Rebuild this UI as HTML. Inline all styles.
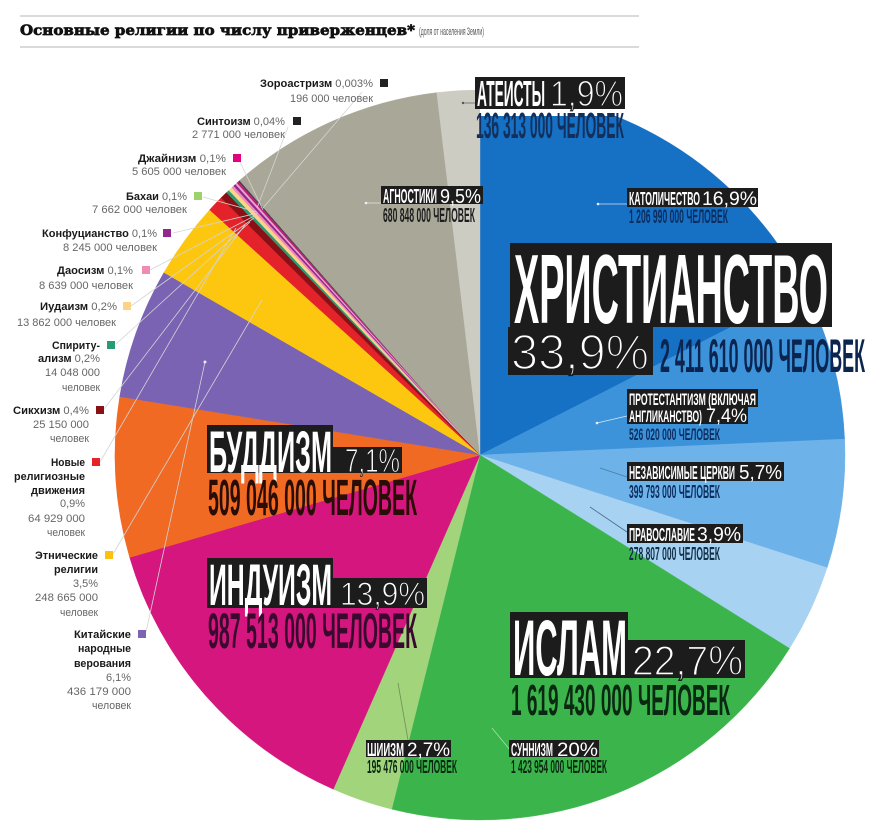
<!DOCTYPE html>
<html><head><meta charset="utf-8">
<style>
html,body{margin:0;padding:0;background:#fff;}
svg{display:block;}
.c{font-family:"Liberation Sans Narrow","Liberation Sans",sans-serif;font-weight:bold;}
.p{font-family:"Liberation Sans",sans-serif;font-weight:normal;}
.l{font-family:"Liberation Sans",sans-serif;font-size:11px;}
.l .b{font-weight:bold;fill:#1a1a1a;}
.l .g{fill:#666;}
.lg{fill:#666;}
</style></head>
<body>
<svg width="880" height="835" viewBox="0 0 880 835" xmlns="http://www.w3.org/2000/svg">
<rect width="880" height="835" fill="#fff"/>
<!-- title -->
<line x1="20" y1="16" x2="639" y2="16" stroke="#b5b5b5" stroke-width="1"/>
<line x1="20" y1="47" x2="639" y2="47" stroke="#b5b5b5" stroke-width="1"/>
<text x="20" y="35" font-family="'DejaVu Serif','Liberation Serif',serif" font-weight="bold" font-size="14" fill="#111" stroke="#111" stroke-width="0.7" textLength="395" lengthAdjust="spacingAndGlyphs">Основные религии по числу приверженцев*</text>
<text x="419" y="35" font-family="'Liberation Sans Narrow','Liberation Sans',sans-serif" font-size="11" fill="#555" textLength="65" lengthAdjust="spacingAndGlyphs">(доля от населения Земли)</text>

<!-- pie -->
<g stroke-width="0.4">
<path d="M480,455 L480,90 A365,365 0 0 1 805.22,289.29 Z" fill="#1670c4" stroke="#1670c4"/>
<path d="M480,455 L805.22,289.29 A365,365 0 0 1 844.65,439.08 Z" fill="#3c93da" stroke="#3c93da"/>
<path d="M480,455 L844.65,439.08 A365,365 0 0 1 827.13,567.79 Z" fill="#6db3e9" stroke="#6db3e9"/>
<path d="M480,455 L827.13,567.79 A365,365 0 0 1 789.54,648.42 Z" fill="#a8d2f1" stroke="#a8d2f1"/>
<path d="M480,455 L789.54,648.42 A365,365 0 0 1 391.70,809.16 Z" fill="#3bb54b" stroke="#3bb54b"/>
<path d="M480,455 L391.70,809.16 A365,365 0 0 1 333.29,789.22 Z" fill="#a2d47c" stroke="#a2d47c"/>
<path d="M480,455 L333.29,789.22 A365,365 0 0 1 129.67,557.44 Z" fill="#d5167f" stroke="#d5167f"/>
<path d="M480,455 L129.67,557.44 A365,365 0 0 1 119.69,396.64 Z" fill="#f06a24" stroke="#f06a24"/>
<path d="M480,455 L119.69,396.64 A365,365 0 0 1 163.90,272.5 Z" fill="#7a63b3" stroke="#7a63b3"/>
<path d="M480,455 L163.90,272.5 A365,365 0 0 1 209.61,209.82 Z" fill="#fdc70f" stroke="#fdc70f"/>
<path d="M480,455 L209.61,209.82 A365,365 0 0 1 221.00,197.81 Z" fill="#e42229" stroke="#e42229"/>
<path d="M480,455 L221.00,197.81 A365,365 0 0 1 226.45,192.44 Z" fill="#8b1016" stroke="#8b1016"/>
<path d="M480,455 L226.45,192.44 A365,365 0 0 1 228.75,190.24 Z" fill="#2a9a73"/>
<path d="M480,455 L228.75,190.24 A365,365 0 0 1 231.54,187.62 Z" fill="#fdd485"/>
<path d="M480,455 L231.54,187.62 A365,365 0 0 1 233.41,185.89 Z" fill="#f08bb5"/>
<path d="M480,455 L233.41,185.89 A365,365 0 0 1 235.29,184.18 Z" fill="#93278f"/>
<path d="M480,455 L235.29,184.18 A365,365 0 0 1 236.72,182.90 Z" fill="#e3a4c8"/>
<path d="M480,455 L236.72,182.90 A365,365 0 0 1 238.14,181.63 Z" fill="#c3187a"/>
<path d="M480,455 L238.14,181.63 A365,365 0 0 1 239.10,180.78 Z" fill="#5a2a4a"/>
<path d="M480,455 L239.10,180.78 A365,365 0 0 1 239.58,180.36 Z" fill="#333"/>
<path d="M480,455 L239.58,180.36 A365,365 0 0 1 436.78,92.57 Z" fill="#a9a797" stroke="#a9a797"/>
<path d="M480,455 L436.78,92.57 A365,365 0 0 1 480,90 Z" fill="#cdccc2" stroke="#cdccc2"/>
</g>

<!-- leader lines for left labels -->
<g stroke="#d4d4d4" stroke-width="0.8" fill="none">
<line x1="362" y1="92" x2="263" y2="208"/>
<line x1="288" y1="127" x2="257" y2="208"/>
<line x1="240" y1="162" x2="263" y2="210"/>
<line x1="203" y1="197" x2="257" y2="212"/>
<line x1="173" y1="233" x2="258" y2="213"/>
<line x1="150" y1="270" x2="256" y2="215"/>
<line x1="131" y1="306" x2="254" y2="218"/>
<line x1="116" y1="344" x2="250" y2="222"/>
<line x1="104" y1="409" x2="245" y2="225"/>
<line x1="100" y1="462" x2="236" y2="228"/>
<line x1="113" y1="554" x2="262" y2="300"/>
<line x1="146" y1="632" x2="205" y2="362"/>
</g>
<circle cx="205" cy="362" r="1.5" fill="#e8e8ff"/>

<!-- left labels -->
<g class="l">
<text x="260" y="87" textLength="113" lengthAdjust="spacingAndGlyphs"><tspan class="b">Зороастризм</tspan><tspan class="g"> 0,003%</tspan></text>
<text x="290" y="102" class="lg" textLength="83" lengthAdjust="spacingAndGlyphs">196 000 человек</text>
<text x="197" y="125" textLength="88" lengthAdjust="spacingAndGlyphs"><tspan class="b">Синтоизм</tspan><tspan class="g"> 0,04%</tspan></text>
<text x="192" y="138" class="lg" textLength="93" lengthAdjust="spacingAndGlyphs">2 771 000 человек</text>
<text x="138" y="162" textLength="88" lengthAdjust="spacingAndGlyphs"><tspan class="b">Джайнизм</tspan><tspan class="g"> 0,1%</tspan></text>
<text x="132" y="175" class="lg" textLength="94" lengthAdjust="spacingAndGlyphs">5 605 000 человек</text>
<text x="126" y="200" textLength="61" lengthAdjust="spacingAndGlyphs"><tspan class="b">Бахаи</tspan><tspan class="g"> 0,1%</tspan></text>
<text x="92" y="213" class="lg" textLength="95" lengthAdjust="spacingAndGlyphs">7 662 000 человек</text>
<text x="42" y="237" textLength="115" lengthAdjust="spacingAndGlyphs"><tspan class="b">Конфуцианство</tspan><tspan class="g"> 0,1%</tspan></text>
<text x="63" y="251" class="lg" textLength="94" lengthAdjust="spacingAndGlyphs">8 245 000 человек</text>
<text x="57" y="274" textLength="76" lengthAdjust="spacingAndGlyphs"><tspan class="b">Даосизм</tspan><tspan class="g"> 0,1%</tspan></text>
<text x="39" y="289" class="lg" textLength="94" lengthAdjust="spacingAndGlyphs">8 639 000 человек</text>
<text x="40" y="310" textLength="77" lengthAdjust="spacingAndGlyphs"><tspan class="b">Иудаизм</tspan><tspan class="g"> 0,2%</tspan></text>
<text x="17" y="326" class="lg" textLength="99" lengthAdjust="spacingAndGlyphs">13 862 000 человек</text>
<text x="52" y="349" textLength="48" lengthAdjust="spacingAndGlyphs"><tspan class="b">Спириту-</tspan></text>
<text x="38" y="362" textLength="62" lengthAdjust="spacingAndGlyphs"><tspan class="b">ализм</tspan><tspan class="g"> 0,2%</tspan></text>
<text x="45" y="376" class="lg" textLength="55" lengthAdjust="spacingAndGlyphs">14 048 000</text>
<text x="62" y="391" class="lg" textLength="38" lengthAdjust="spacingAndGlyphs">человек</text>
<text x="13" y="414" textLength="76" lengthAdjust="spacingAndGlyphs"><tspan class="b">Сикхизм</tspan><tspan class="g"> 0,4%</tspan></text>
<text x="33" y="428" class="lg" textLength="56" lengthAdjust="spacingAndGlyphs">25 150 000</text>
<text x="50" y="442" class="lg" textLength="39" lengthAdjust="spacingAndGlyphs">человек</text>
<text x="51" y="466" textLength="34" lengthAdjust="spacingAndGlyphs"><tspan class="b">Новые</tspan></text>
<text x="14" y="480" textLength="71" lengthAdjust="spacingAndGlyphs"><tspan class="b">религиозные</tspan></text>
<text x="31" y="494" textLength="54" lengthAdjust="spacingAndGlyphs"><tspan class="b">движения</tspan></text>
<text x="60" y="507" class="lg" textLength="25" lengthAdjust="spacingAndGlyphs">0,9%</text>
<text x="28" y="522" class="lg" textLength="57" lengthAdjust="spacingAndGlyphs">64 929 000</text>
<text x="47" y="536" class="lg" textLength="38" lengthAdjust="spacingAndGlyphs">человек</text>
<text x="35" y="559" textLength="63" lengthAdjust="spacingAndGlyphs"><tspan class="b">Этнические</tspan></text>
<text x="54" y="573" textLength="44" lengthAdjust="spacingAndGlyphs"><tspan class="b">религии</tspan></text>
<text x="73" y="587" class="lg" textLength="25" lengthAdjust="spacingAndGlyphs">3,5%</text>
<text x="35" y="601" class="lg" textLength="63" lengthAdjust="spacingAndGlyphs">248 665 000</text>
<text x="60" y="616" class="lg" textLength="38" lengthAdjust="spacingAndGlyphs">человек</text>
<text x="74" y="638" textLength="57" lengthAdjust="spacingAndGlyphs"><tspan class="b">Китайские</tspan></text>
<text x="78" y="652" textLength="53" lengthAdjust="spacingAndGlyphs"><tspan class="b">народные</tspan></text>
<text x="74" y="667" textLength="57" lengthAdjust="spacingAndGlyphs"><tspan class="b">верования</tspan></text>
<text x="106" y="681" class="lg" textLength="25" lengthAdjust="spacingAndGlyphs">6,1%</text>
<text x="67" y="695" class="lg" textLength="64" lengthAdjust="spacingAndGlyphs">436 179 000</text>
<text x="92" y="709" class="lg" textLength="39" lengthAdjust="spacingAndGlyphs">человек</text>
</g>
<!-- squares -->
<rect x="380" y="79" width="8" height="8" fill="#222"/>
<rect x="293" y="117" width="8" height="8" fill="#222"/>
<rect x="233" y="154" width="8" height="8" fill="#e5007e"/>
<rect x="194" y="192" width="8" height="8" fill="#9dd16c"/>
<rect x="163" y="229" width="8" height="8" fill="#93278f"/>
<rect x="142" y="266" width="8" height="8" fill="#f08bb5"/>
<rect x="123" y="302" width="8" height="8" fill="#fdd485"/>
<rect x="107" y="341" width="8" height="8" fill="#2a9a73"/>
<rect x="96" y="406" width="8" height="8" fill="#8b1016"/>
<rect x="92" y="458" width="8" height="8" fill="#e52329"/>
<rect x="105" y="551" width="8" height="8" fill="#fcc10e"/>
<rect x="138" y="630" width="8" height="8" fill="#7b64b4"/>

<!-- pointers right side -->
<g stroke-width="0.8" fill="none">
<line x1="463" y1="103" x2="475" y2="103" stroke="#666"/>
<line x1="366" y1="203" x2="381" y2="203" stroke="#e0e0e0"/>
<line x1="598" y1="204" x2="627" y2="204" stroke="#cfe3f5"/>
<line x1="597" y1="423" x2="627" y2="416" stroke="#d5e8f7"/>
<line x1="600" y1="468" x2="627" y2="477" stroke="#4d7aa0"/>
<line x1="590" y1="507" x2="627" y2="532" stroke="#4a6b85"/>
<line x1="398" y1="683" x2="408" y2="740" stroke="#6f8f55"/>
<line x1="492" y1="728" x2="510" y2="750" stroke="#a8e0ae"/>
</g>
<g fill="#eef">
<circle cx="598" cy="204" r="1.3"/><circle cx="597" cy="423" r="1.3"/><circle cx="366" cy="203" r="1.3"/><circle cx="463" cy="103" r="1.2" fill="#555"/>
</g>

<!-- Atheists -->
<rect x="480" y="108" width="145" height="8" fill="#fff"/>
<rect x="475" y="77" width="150" height="32" fill="#1c1c1c"/>
<text class="c" x="477" y="106" font-size="36" fill="#fff" textLength="68" lengthAdjust="spacingAndGlyphs">АТЕИСТЫ</text>
<text class="p" x="550" y="106" font-size="36" fill="#fff" stroke="#1c1c1c" stroke-width="1.2" textLength="73" lengthAdjust="spacingAndGlyphs">1,9%</text>
<text class="c" x="476" y="138" font-size="36" fill="#13305c" textLength="148" lengthAdjust="spacingAndGlyphs">136 313 000 ЧЕЛОВЕК</text>

<!-- Agnostics -->
<rect x="381" y="186" width="102" height="18" fill="#1c1c1c"/>
<text class="c" x="383" y="203" font-size="20" fill="#fff" textLength="54" lengthAdjust="spacingAndGlyphs">АГНОСТИКИ</text>
<text class="p" x="440" y="203" font-size="20" fill="#fff" textLength="41" lengthAdjust="spacingAndGlyphs">9,5%</text>
<text class="c" x="383" y="222" font-size="20" fill="#1e1e1e" textLength="92" lengthAdjust="spacingAndGlyphs">680 848 000 ЧЕЛОВЕК</text>

<!-- Catholic -->
<rect x="627" y="188" width="131" height="19" fill="#1c1c1c"/>
<text class="c" x="629" y="205" font-size="18" fill="#fff" textLength="71" lengthAdjust="spacingAndGlyphs">КАТОЛИЧЕСТВО</text>
<text class="p" x="702" y="205" font-size="19" fill="#fff" textLength="55" lengthAdjust="spacingAndGlyphs">16,9%</text>
<text class="c" x="629" y="223" font-size="19" fill="#0c2d5e" textLength="99" lengthAdjust="spacingAndGlyphs">1 206 990 000 ЧЕЛОВЕК</text>

<!-- Christianity -->
<rect x="510" y="243" width="322" height="84" fill="#1c1c1c"/>
<text class="c" x="514" y="323" font-size="98" fill="#fff" textLength="314" lengthAdjust="spacingAndGlyphs">ХРИСТИАНСТВО</text>
<rect x="508" y="327" width="145" height="48" fill="#1c1c1c"/>
<text class="p" x="511" y="369" font-size="49" fill="#fff" stroke="#1c1c1c" stroke-width="1.8" textLength="138" lengthAdjust="spacingAndGlyphs">33,9%</text>
<text class="c" x="660" y="372" font-size="47" fill="#0c2550" textLength="205" lengthAdjust="spacingAndGlyphs">2 411 610 000 ЧЕЛОВЕК</text>

<!-- Protestant -->
<rect x="627" y="389" width="131" height="18" fill="#1c1c1c"/>
<rect x="627" y="406" width="121" height="18" fill="#1c1c1c"/>
<text class="c" x="629" y="405" font-size="17" fill="#fff" textLength="127" lengthAdjust="spacingAndGlyphs">ПРОТЕСТАНТИЗМ (ВКЛЮЧАЯ</text>
<text class="c" x="629" y="422" font-size="17" fill="#fff" textLength="73" lengthAdjust="spacingAndGlyphs">АНГЛИКАНСТВО)</text>
<text class="p" x="706" y="422" font-size="19" fill="#fff" textLength="41" lengthAdjust="spacingAndGlyphs">7,4%</text>
<text class="c" x="629" y="440" font-size="17" fill="#0c2d5e" textLength="91" lengthAdjust="spacingAndGlyphs">526 020 000 ЧЕЛОВЕК</text>

<!-- Independent -->
<rect x="627" y="462" width="157" height="19" fill="#1c1c1c"/>
<text class="c" x="629" y="479" font-size="18" fill="#fff" textLength="106" lengthAdjust="spacingAndGlyphs">НЕЗАВИСИМЫЕ ЦЕРКВИ</text>
<text class="p" x="739" y="479" font-size="20" fill="#fff" textLength="43" lengthAdjust="spacingAndGlyphs">5,7%</text>
<text class="c" x="629" y="498" font-size="18" fill="#0c2d5e" textLength="91" lengthAdjust="spacingAndGlyphs">399 793 000 ЧЕЛОВЕК</text>

<!-- Orthodox -->
<rect x="627" y="524" width="116" height="19" fill="#1c1c1c"/>
<text class="c" x="629" y="541" font-size="18" fill="#fff" textLength="66" lengthAdjust="spacingAndGlyphs">ПРАВОСЛАВИЕ</text>
<text class="p" x="697" y="541" font-size="20" fill="#fff" textLength="44" lengthAdjust="spacingAndGlyphs">3,9%</text>
<text class="c" x="629" y="560" font-size="18" fill="#12304a" textLength="91" lengthAdjust="spacingAndGlyphs">278 807 000 ЧЕЛОВЕК</text>

<!-- Buddhism -->
<rect x="207" y="425" width="126" height="48" fill="#1c1c1c"/>
<rect x="333" y="447" width="69" height="26" fill="#1c1c1c"/>
<text class="c" x="209" y="472" font-size="58" fill="#fff" textLength="123" lengthAdjust="spacingAndGlyphs">БУДДИЗМ</text>
<text class="p" x="345" y="472" font-size="33" fill="#fff" stroke="#1c1c1c" stroke-width="1" textLength="55" lengthAdjust="spacingAndGlyphs">7,1%</text>
<text class="c" x="208" y="515" font-size="51" fill="#2a0e06" textLength="209" lengthAdjust="spacingAndGlyphs">509 046 000 ЧЕЛОВЕК</text>

<!-- Hinduism -->
<rect x="207" y="558" width="126" height="50" fill="#1c1c1c"/>
<rect x="333" y="578" width="94" height="30" fill="#1c1c1c"/>
<text class="c" x="209" y="605" font-size="58" fill="#fff" textLength="123" lengthAdjust="spacingAndGlyphs">ИНДУИЗМ</text>
<text class="p" x="340" y="605" font-size="32" fill="#fff" stroke="#1c1c1c" stroke-width="1" textLength="85" lengthAdjust="spacingAndGlyphs">13,9%</text>
<text class="c" x="208" y="648" font-size="50" fill="#3a0a2e" textLength="209" lengthAdjust="spacingAndGlyphs">987 513 000 ЧЕЛОВЕК</text>

<!-- Islam -->
<rect x="510" y="612" width="118" height="66" fill="#1c1c1c"/>
<rect x="628" y="640" width="117" height="38" fill="#1c1c1c"/>
<text class="c" x="513" y="675" font-size="79" fill="#fff" textLength="114" lengthAdjust="spacingAndGlyphs">ИСЛАМ</text>
<text class="p" x="632" y="675" font-size="42" fill="#fff" stroke="#1c1c1c" stroke-width="1.4" textLength="111" lengthAdjust="spacingAndGlyphs">22,7%</text>
<text class="c" x="511" y="715" font-size="44" fill="#0b2812" textLength="219" lengthAdjust="spacingAndGlyphs">1 619 430 000 ЧЕЛОВЕК</text>

<!-- Shia -->
<rect x="366" y="740" width="85" height="17" fill="#1c1c1c"/>
<text class="c" x="367" y="756" font-size="18" fill="#fff" textLength="37" lengthAdjust="spacingAndGlyphs">ШИИЗМ</text>
<text class="p" x="407" y="756" font-size="19" fill="#fff" textLength="43" lengthAdjust="spacingAndGlyphs">2,7%</text>
<text class="c" x="367" y="773" font-size="18" fill="#0b2812" textLength="90" lengthAdjust="spacingAndGlyphs">195 476 000 ЧЕЛОВЕК</text>

<!-- Sunni -->
<rect x="509" y="740" width="90" height="17" fill="#1c1c1c"/>
<text class="c" x="511" y="756" font-size="18" fill="#fff" textLength="42" lengthAdjust="spacingAndGlyphs">СУННИЗМ</text>
<text class="p" x="557" y="756" font-size="19" fill="#fff" textLength="41" lengthAdjust="spacingAndGlyphs">20%</text>
<text class="c" x="511" y="773" font-size="18" fill="#0b2812" textLength="96" lengthAdjust="spacingAndGlyphs">1 423 954 000 ЧЕЛОВЕК</text>
</svg>
</body></html>
